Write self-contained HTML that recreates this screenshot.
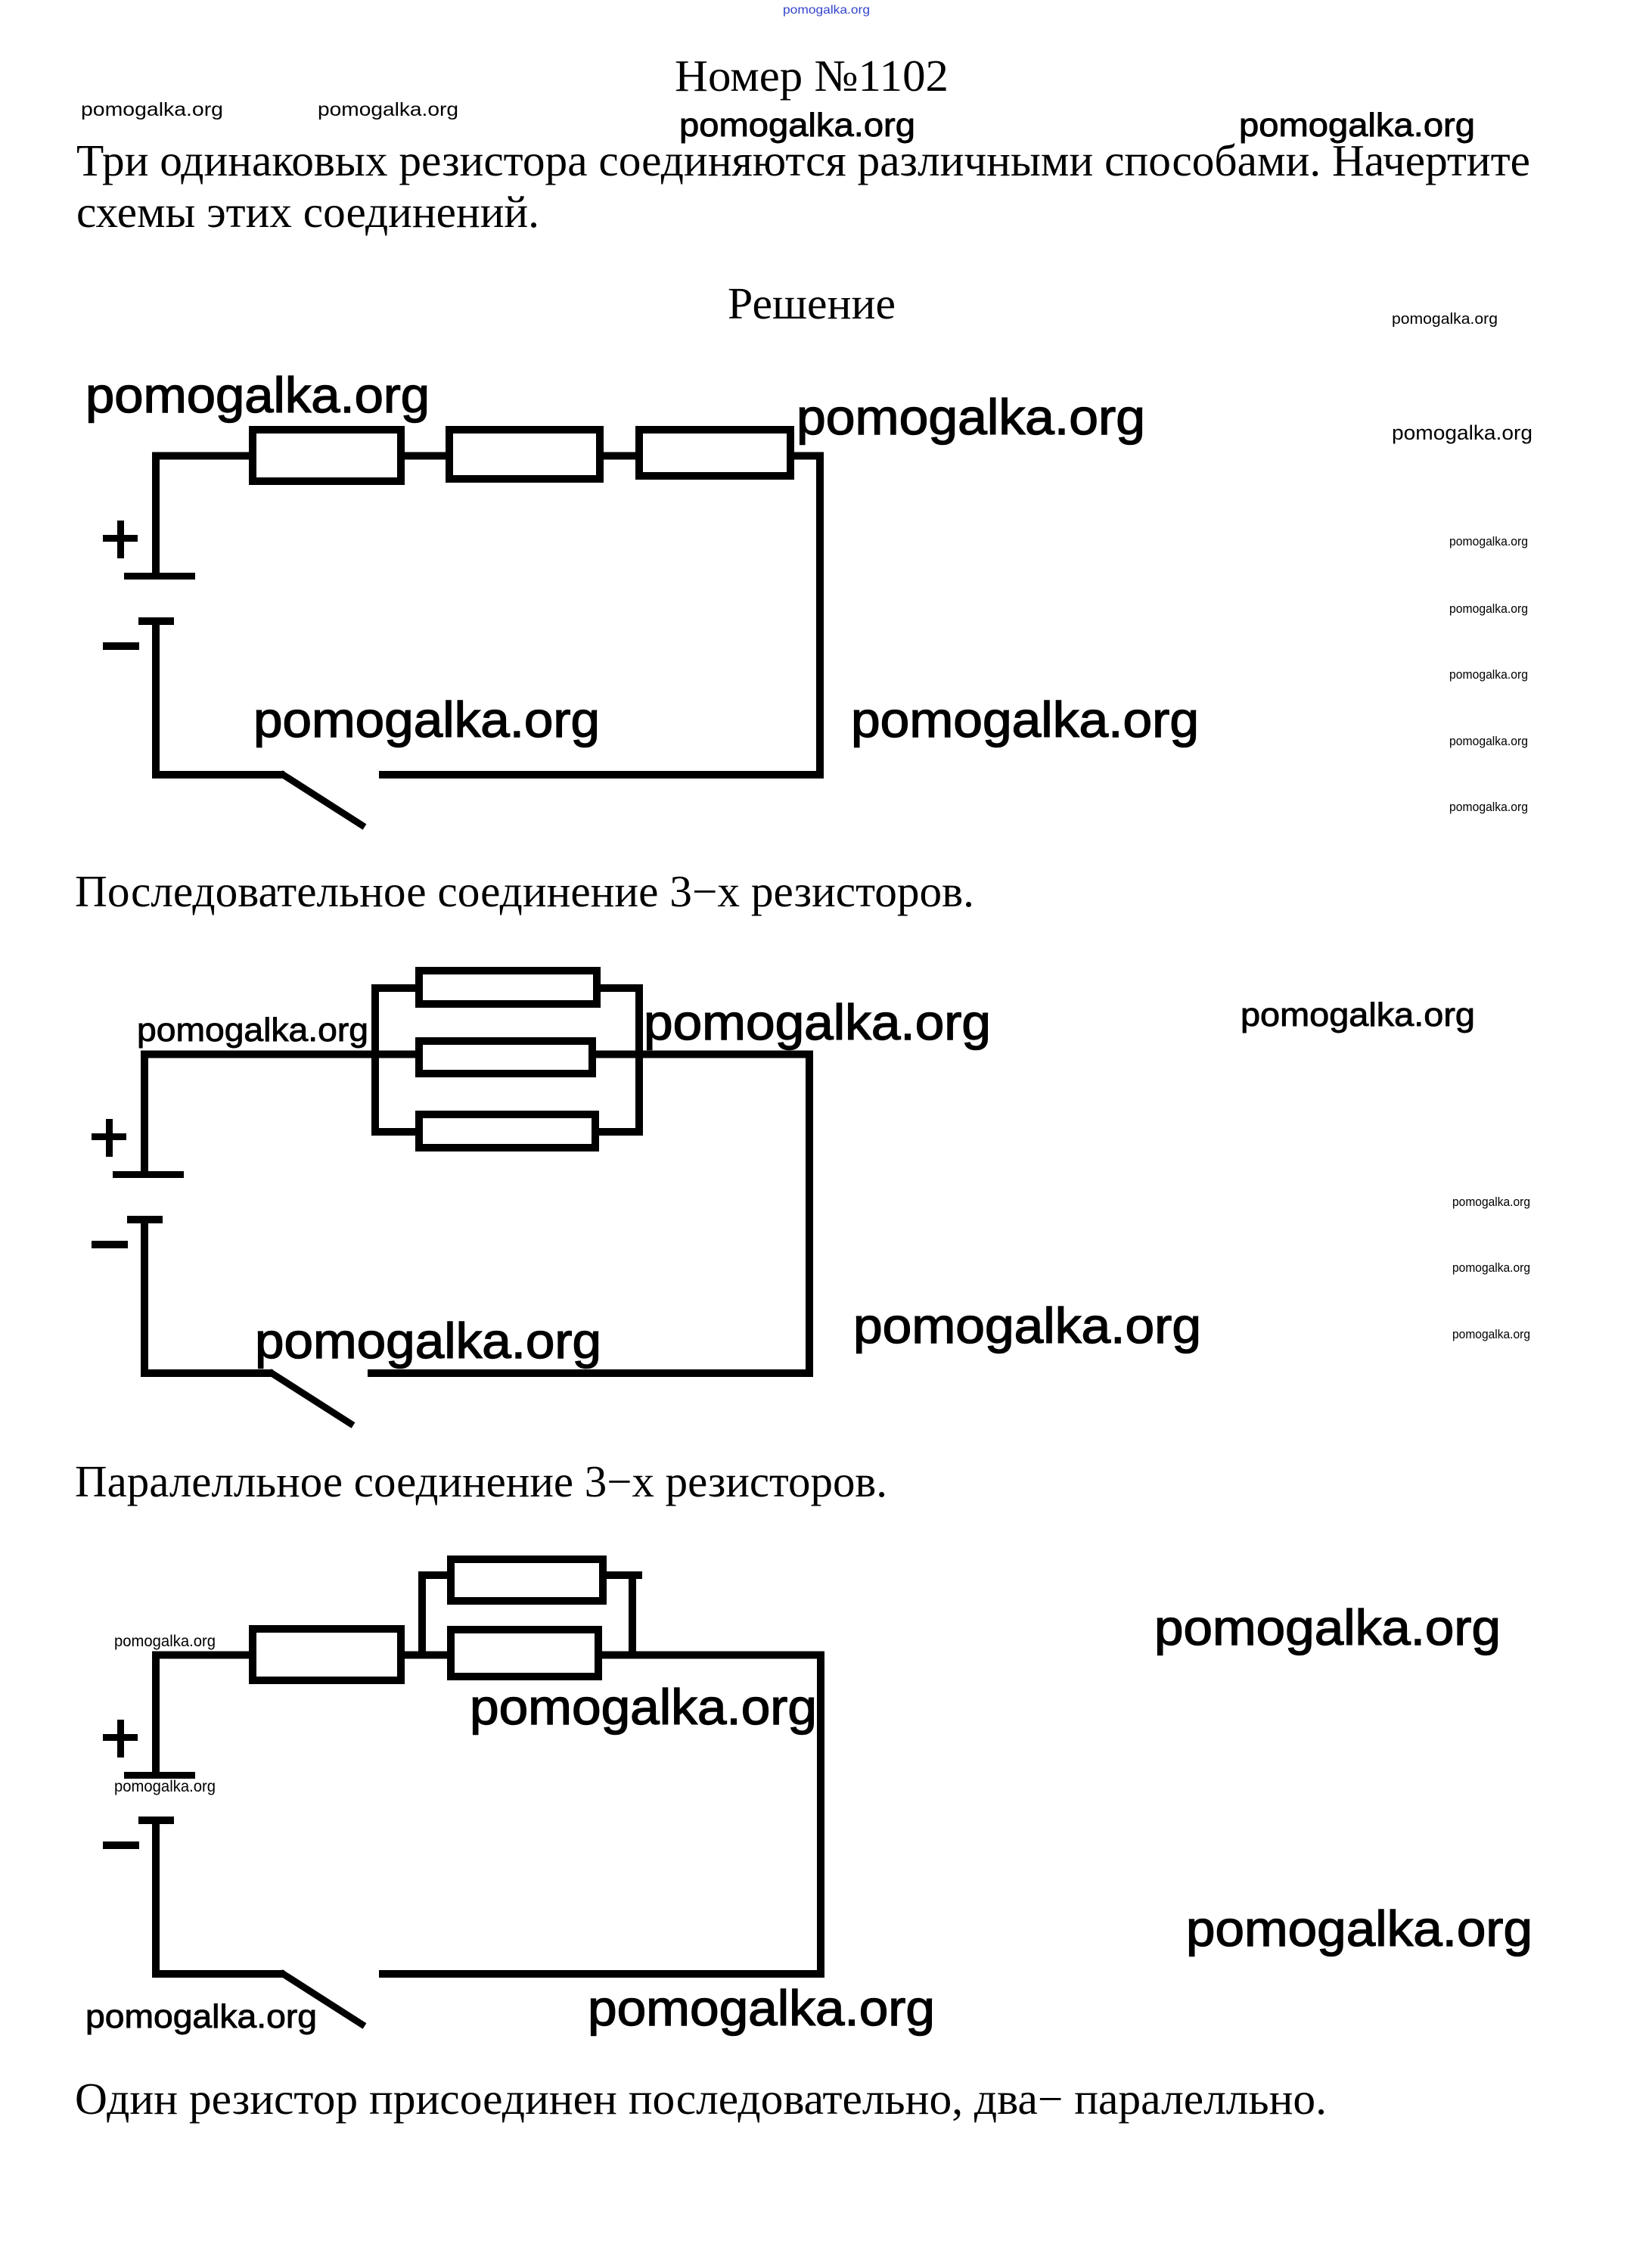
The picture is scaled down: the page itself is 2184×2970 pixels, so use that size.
<!DOCTYPE html>
<html><head><meta charset="utf-8"><style>
html,body{margin:0;padding:0;background:#fff;}
svg{display:block;}
.t{font-family:"Liberation Serif","Noto Serif CJK SC",serif;font-size:59px;fill:#000;}
.w{font-family:"Liberation Sans","DejaVu Sans",sans-serif;fill:#000;stroke:#000;stroke-width:1.4px;font-size:66px;}
.wm{font-family:"Liberation Sans","DejaVu Sans",sans-serif;fill:#000;stroke:#000;stroke-width:0.9px;font-size:44px;}
.ws{font-family:"Liberation Sans","DejaVu Sans",sans-serif;fill:#000;}
.wr{fill:none;stroke:#000;stroke-width:10;stroke-linecap:square;stroke-linejoin:miter;}
.sw{stroke:#000;stroke-width:9;}
</style></head><body>
<svg width="2184" height="2970" viewBox="0 0 2184 2970" xmlns="http://www.w3.org/2000/svg">
<rect x="0" y="0" width="2184" height="2970" fill="#fff"/>

<!-- top texts -->
<text class="ws" x="1035" y="18" font-size="16" textLength="115" lengthAdjust="spacingAndGlyphs" style="fill:#3344cc">pomogalka.org</text>
<text class="t" x="892" y="120" textLength="362" lengthAdjust="spacingAndGlyphs">Номер №1102</text>
<text class="ws" x="107" y="153" font-size="25" textLength="188" lengthAdjust="spacingAndGlyphs">pomogalka.org</text>
<text class="ws" x="420" y="153" font-size="25" textLength="186" lengthAdjust="spacingAndGlyphs">pomogalka.org</text>
<text class="wm" x="898" y="180" textLength="312" lengthAdjust="spacingAndGlyphs">pomogalka.org</text>
<text class="wm" x="1638" y="180" textLength="312" lengthAdjust="spacingAndGlyphs">pomogalka.org</text>
<text class="t" x="101" y="232" textLength="1922" lengthAdjust="spacingAndGlyphs">Три одинаковых резистора соединяются различными способами. Начертите</text>
<text class="t" x="101" y="300" textLength="612" lengthAdjust="spacingAndGlyphs">схемы этих соединений.</text>
<text class="t" x="962" y="421" textLength="222" lengthAdjust="spacingAndGlyphs">Решение</text>
<text class="ws" x="1840" y="428" font-size="20" textLength="140" lengthAdjust="spacingAndGlyphs">pomogalka.org</text>

<!-- circuit 1 watermarks -->
<text class="w" x="113" y="545" textLength="455" lengthAdjust="spacingAndGlyphs">pomogalka.org</text>
<text class="w" x="1053" y="574" textLength="461" lengthAdjust="spacingAndGlyphs">pomogalka.org</text>
<text class="ws" x="1840" y="581" font-size="27" textLength="186" lengthAdjust="spacingAndGlyphs">pomogalka.org</text>
<text class="ws" x="1916" y="721" font-size="17" textLength="104" lengthAdjust="spacingAndGlyphs">pomogalka.org</text>
<text class="ws" x="1916" y="810" font-size="17" textLength="104" lengthAdjust="spacingAndGlyphs">pomogalka.org</text>
<text class="ws" x="1916" y="897" font-size="17" textLength="104" lengthAdjust="spacingAndGlyphs">pomogalka.org</text>
<text class="ws" x="1916" y="985" font-size="17" textLength="104" lengthAdjust="spacingAndGlyphs">pomogalka.org</text>
<text class="ws" x="1916" y="1072" font-size="17" textLength="104" lengthAdjust="spacingAndGlyphs">pomogalka.org</text>
<text class="w" x="335" y="974" textLength="458" lengthAdjust="spacingAndGlyphs">pomogalka.org</text>
<text class="w" x="1125" y="974" textLength="460" lengthAdjust="spacingAndGlyphs">pomogalka.org</text>

<!-- circuit 1 -->
<path class="wr" d="M206 761 V602.5 H334"/>
<rect class="wr" x="334" y="568" width="196" height="68"/>
<path class="wr" d="M530 602.5 H594"/>
<rect class="wr" x="594" y="568" width="199" height="65"/>
<path class="wr" d="M793 602.5 H845"/>
<rect class="wr" x="845" y="568" width="200" height="61"/>
<path class="wr" d="M1045 602.5 H1084 V1024 H506"/>
<path class="wr" d="M206 821 V1024 H371"/>
<line class="sw" x1="371" y1="1022" x2="482" y2="1093"/>
<rect x="164" y="757" width="94" height="9" fill="#000"/>
<rect x="183" y="816" width="47" height="10" fill="#000"/>
<rect x="155" y="688" width="9" height="50" fill="#000"/>
<rect x="136" y="707" width="46" height="9" fill="#000"/>
<rect x="136" y="849" width="48" height="10" fill="#000"/>

<text class="t" x="99" y="1198" textLength="1189" lengthAdjust="spacingAndGlyphs">Последовательное соединение 3−х резисторов.</text>

<!-- circuit 2 watermarks -->
<text class="wm" x="181" y="1376" textLength="306" lengthAdjust="spacingAndGlyphs">pomogalka.org</text>
<text class="w" x="851" y="1374" textLength="459" lengthAdjust="spacingAndGlyphs">pomogalka.org</text>
<text class="wm" x="1640" y="1356" textLength="310" lengthAdjust="spacingAndGlyphs">pomogalka.org</text>
<text class="ws" x="1920" y="1594" font-size="17" textLength="103" lengthAdjust="spacingAndGlyphs">pomogalka.org</text>
<text class="ws" x="1920" y="1681" font-size="17" textLength="103" lengthAdjust="spacingAndGlyphs">pomogalka.org</text>
<text class="ws" x="1920" y="1769" font-size="17" textLength="103" lengthAdjust="spacingAndGlyphs">pomogalka.org</text>
<text class="w" x="337" y="1795" textLength="458" lengthAdjust="spacingAndGlyphs">pomogalka.org</text>
<text class="w" x="1128" y="1775" textLength="460" lengthAdjust="spacingAndGlyphs">pomogalka.org</text>

<!-- circuit 2 -->
<path class="wr" d="M191 1552 V1393.5 H554"/>
<rect class="wr" x="554" y="1283" width="235" height="44"/>
<rect class="wr" x="554" y="1376" width="229" height="43"/>
<rect class="wr" x="554" y="1473" width="233" height="44"/>
<path class="wr" d="M554 1306 H496 V1496 H554"/>
<path class="wr" d="M789 1306 H845 V1496 H787"/>
<path class="wr" d="M783 1393.5 H1070 V1815 H491"/>
<path class="wr" d="M191 1612 V1815 H356"/>
<line class="sw" x1="356" y1="1813" x2="467" y2="1884"/>
<rect x="149" y="1548" width="94" height="9" fill="#000"/>
<rect x="168" y="1607" width="47" height="10" fill="#000"/>
<rect x="140" y="1479" width="9" height="50" fill="#000"/>
<rect x="121" y="1498" width="46" height="9" fill="#000"/>
<rect x="121" y="1640" width="48" height="10" fill="#000"/>

<text class="t" x="99" y="1978" textLength="1074" lengthAdjust="spacingAndGlyphs">Паралелльное соединение 3−х резисторов.</text>

<!-- circuit 3 watermarks -->
<text class="w" x="1526" y="2174" textLength="458" lengthAdjust="spacingAndGlyphs">pomogalka.org</text>
<text class="ws" x="151" y="2176" font-size="21" textLength="134" lengthAdjust="spacingAndGlyphs">pomogalka.org</text>
<text class="ws" x="151" y="2368" font-size="21" textLength="134" lengthAdjust="spacingAndGlyphs">pomogalka.org</text>
<text class="w" x="621" y="2279" textLength="459" lengthAdjust="spacingAndGlyphs">pomogalka.org</text>
<text class="w" x="1568" y="2572" textLength="458" lengthAdjust="spacingAndGlyphs">pomogalka.org</text>
<text class="wm" x="113" y="2680" textLength="306" lengthAdjust="spacingAndGlyphs">pomogalka.org</text>
<text class="w" x="777" y="2677" textLength="459" lengthAdjust="spacingAndGlyphs">pomogalka.org</text>

<!-- circuit 3 -->
<path class="wr" d="M206 2346 V2187.5 H334"/>
<rect class="wr" x="334" y="2153" width="196" height="68"/>
<path class="wr" d="M530 2187.5 H596"/>
<path class="wr" d="M596 2082 H558 V2187.5"/>
<rect class="wr" x="596" y="2061" width="201" height="55"/>
<rect class="wr" x="596" y="2154" width="195" height="62"/>
<path class="wr" d="M797 2082 H844"/>
<path class="wr" d="M836 2082 V2187.5"/>
<path class="wr" d="M791 2187.5 H1085 V2609 H506"/>
<path class="wr" d="M206 2406 V2609 H371"/>
<line class="sw" x1="371" y1="2607" x2="482" y2="2678"/>
<rect x="164" y="2342" width="94" height="9" fill="#000"/>
<rect x="183" y="2401" width="47" height="10" fill="#000"/>
<rect x="155" y="2273" width="9" height="50" fill="#000"/>
<rect x="136" y="2292" width="46" height="9" fill="#000"/>
<rect x="136" y="2434" width="48" height="10" fill="#000"/>

<text class="t" x="99" y="2794" textLength="1655" lengthAdjust="spacingAndGlyphs">Один резистор присоединен последовательно, два− паралелльно.</text>
</svg>
</body></html>
